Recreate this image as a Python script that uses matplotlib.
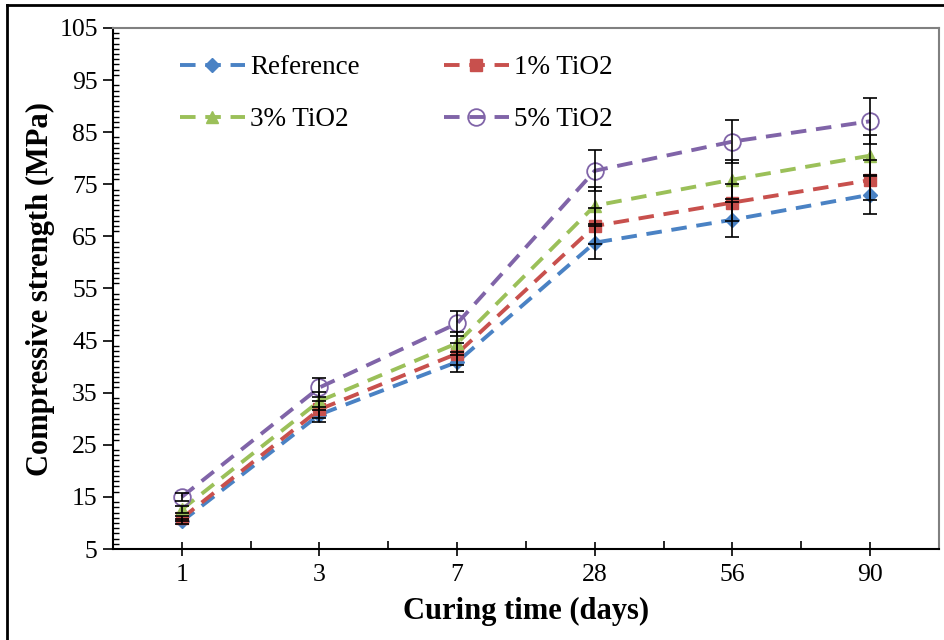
import numpy as np
import matplotlib.pyplot as plt
from matplotlib.ticker import MultipleLocator
from matplotlib.lines import Line2D

# Data
days = ['1', '3', '7', '28', '56', '90']
ref = [10.3, 30.8, 40.9, 63.8, 68.2, 73.0]
tio2_1 = [10.9, 31.8, 42.5, 67.0, 71.5, 75.8]
tio2_3 = [12.6, 33.4, 44.5, 70.9, 75.9, 80.5]
tio2_5 = [15.0, 36.0, 48.3, 77.6, 83.2, 87.1]
err_ref = [0.5, 1.5, 2.0, 3.2, 3.4, 3.7]
err_1 = [0.5, 1.6, 2.1, 3.4, 3.6, 3.8]
err_3 = [0.6, 1.7, 2.2, 3.5, 3.8, 4.0]
err_5 = [0.75, 1.8, 2.4, 3.9, 4.2, 4.4]
yticks = [5, 15, 25, 35, 45, 55, 65, 75, 85, 95, 105]

labels = ['Reference', '1% TiO2', '3% TiO2', '5% TiO2']
colors = ['#4a82c4', '#c8504d', '#9bc059', '#8064a8']
markers = ['D', 's', '^', 'o']

plt.rcParams['font.family'] = ['Liberation Serif', 'DejaVu Serif']

fig = plt.figure(figsize=(9.45, 6.4), dpi=100)
ax = fig.add_axes([113/945, 1 - 549/640, (939 - 113)/945, (549 - 28)/640])

x = np.arange(len(days))
series = [ref, tio2_1, tio2_3, tio2_5]
errs = [err_ref, err_1, err_3, err_5]

for y, e in zip(series, errs):
    ax.errorbar(x, y, yerr=e, fmt='none', ecolor='black', elinewidth=1.2,
                capsize=5, capthick=1.2, zorder=4)
handles = []
for y, c, m, lab in zip(series, colors, markers, labels):
    if m == 'o':
        h, = ax.plot(x, y, color=c, linestyle=(0, (4, 2.5)), linewidth=2.8,
                     marker=m, markersize=12, markerfacecolor='none',
                     markeredgecolor=c, markeredgewidth=1.3, label=lab, zorder=3)
    else:
        ms = 7 if m == 'D' else 9
        h, = ax.plot(x, y, color=c, linestyle=(0, (4, 2.5)), linewidth=2.8,
                     marker=m, markersize=ms, markerfacecolor=c,
                     markeredgecolor=c, label=lab, zorder=3)
    handles.append(h)

ax.set_xlim(-0.5, len(days) - 0.5)
ax.set_ylim(5, 105)
ax.set_xticks(x)
ax.set_xticklabels(days)
ax.set_yticks(yticks)
ax.xaxis.set_minor_locator(MultipleLocator(0.5))
ax.yaxis.set_minor_locator(MultipleLocator(1))
ax.tick_params(axis='x', which='major', direction='inout', length=10, width=1.2,
               labelsize=18.5, pad=6)
ax.tick_params(axis='x', which='minor', direction='in', length=6, width=1.2)
ax.tick_params(axis='y', which='major', direction='out', length=7, width=1.2,
               labelsize=18.5, pad=4)
ax.tick_params(axis='y', which='minor', direction='in', length=4, width=1)

for s in ['left', 'bottom']:
    ax.spines[s].set_color('black')
    ax.spines[s].set_linewidth(1.5)
for s in ['top', 'right']:
    ax.spines[s].set_color('#808080')
    ax.spines[s].set_linewidth(1.5)

ax.set_xlabel('Curing time (days)', fontsize=22, fontweight='bold', labelpad=8)
ax.set_ylabel('Compressive strength (MPa)', fontsize=22, fontweight='bold', labelpad=3)

# row-major legend order: Reference, 1% / 3%, 5%
order = [0, 2, 1, 3]
ax.legend([handles[i] for i in order], [labels[i] for i in order],
          loc='upper left', ncol=2, frameon=False, fontsize=19.5,
          bbox_to_anchor=(0.051, 0.995), handlelength=2.4, columnspacing=3.1,
          labelspacing=1.0, handletextpad=0.2)

# outer frame of the picture
fig.add_artist(Line2D([7/945, 7/945], [0, 1 - 5/640], color='black', linewidth=2))
fig.add_artist(Line2D([7/945, 1], [1 - 5/640, 1 - 5/640], color='black', linewidth=2))

fig.savefig('out.png', dpi=100)
